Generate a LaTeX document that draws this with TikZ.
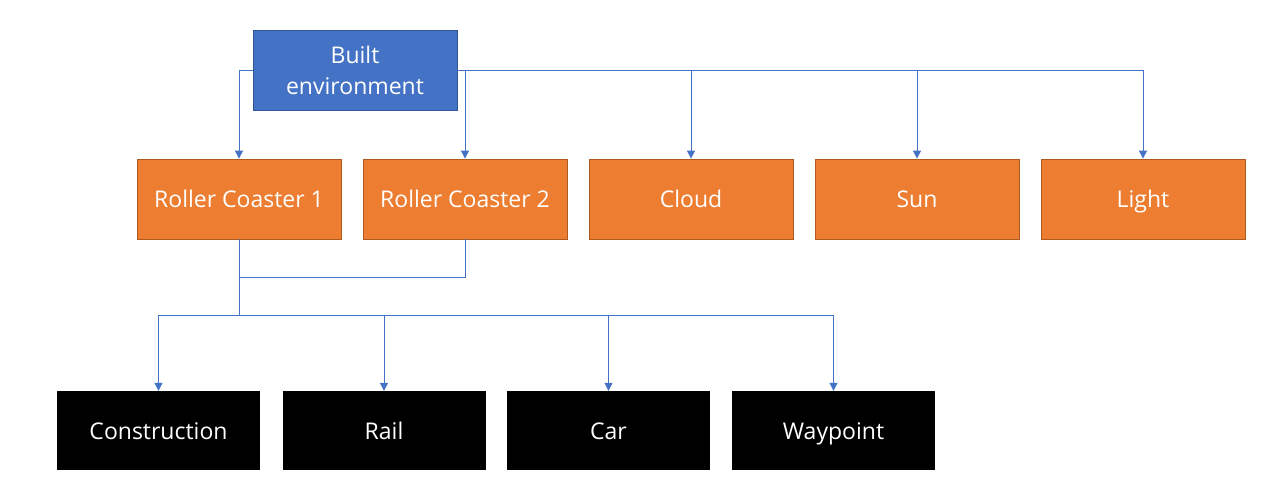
\documentclass[tikz,border=0pt]{standalone}
\usepackage{fontspec}
\setmainfont{Open Sans}
\usetikzlibrary{arrows.meta}
\definecolor{bluefill}{HTML}{4472C4}
\definecolor{blueedge}{HTML}{2F5597}
\definecolor{orfill}{HTML}{ED7D31}
\definecolor{oredge}{HTML}{AE5A21}
\definecolor{lineblue}{HTML}{4472C4}
\begin{document}
\begin{tikzpicture}[x=1pt,y=-1pt,
  box/.style={minimum width=204pt,minimum height=80pt,inner sep=0pt,align=center,font=\fontsize{23}{31}\selectfont},
  onel/.style={text height=19pt,text depth=2pt},
  topbox/.style={box,fill=bluefill,draw=blueedge,line width=0.8pt,text=white},
  midbox/.style={box,onel,fill=orfill,draw=oredge,line width=0.8pt,text=white},
  lowbox/.style={box,onel,fill=black,text=white,minimum width=203pt,minimum height=79pt},
  conn/.style={draw=lineblue,line width=1pt},
  arr/.style={conn,-{Triangle[width=8pt,length=8pt]}}]
\useasboundingbox (0,0) rectangle (1261,485);
\node[topbox] (built) at (355,70) {Built\\environment};
\node[midbox] (rc1) at (239,199) {Roller Coaster 1};
\node[midbox] (rc2) at (465,199) {Roller Coaster 2};
\node[midbox] (cloud) at (691,199) {Cloud};
\node[midbox] (sun) at (917,199) {Sun};
\node[midbox] (light) at (1143,199) {Light};
\node[lowbox] (cons) at (158.5,430.5) {Construction};
\node[lowbox] (rail) at (384,430.5) {Rail};
\node[lowbox] (car) at (608.5,430.5) {Car};
\node[lowbox] (way) at (833.5,430.5) {Waypoint};
\coordinate (j1) at (239,315);
% top connectors
\draw[arr] (built.west) -| (rc1.north);
\draw[arr] (built.east) -| (rc2.north);
\draw[arr] (built.east) -| (cloud.north);
\draw[arr] (built.east) -| (sun.north);
\draw[arr] (built.east) -| (light.north);
% merge
\draw[conn] (rc1.south) -- (j1);
\draw[conn] (rc2.south) |- (239,277);
% bottom connectors
\draw[arr] (j1) -| (cons.north);
\draw[arr] (j1) -| (rail.north);
\draw[arr] (j1) -| (car.north);
\draw[arr] (j1) -| (way.north);
\end{tikzpicture}
\end{document}
